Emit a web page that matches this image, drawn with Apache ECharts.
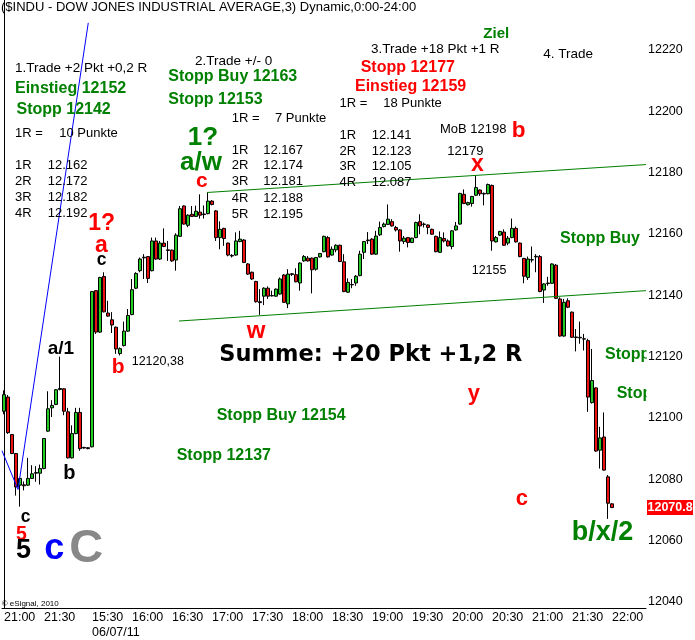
<!DOCTYPE html>
<html><head><meta charset="utf-8">
<script src="https://cdn.jsdelivr.net/npm/echarts@6/dist/echarts.min.js"></script>
<style>html,body{margin:0;padding:0;background:#fff}#c{width:695px;height:640px}</style>
</head><body><div id="c"></div>
<script>
// ---- categories (3-minute bars) ----
const prevDay = '05/07';
const today = '06/07';
const dateLabel = '06/07/11';
const prevDayTimes = ['21:00','21:03','21:06','21:09','21:12','21:15','21:18','21:21','21:24','21:27',
 '21:30','21:33','21:36','21:39','21:42','21:45','21:48','21:51','21:54','21:57','22:00'];
const todayTimes = ['15:27',
 '15:30','15:33','15:36','15:39','15:42','15:45','15:48','15:51','15:54','15:57',
 '16:00','16:03','16:06','16:09','16:12','16:15','16:18','16:21','16:24','16:27',
 '16:30','16:33','16:36','16:39','16:42','16:45','16:48','16:51','16:54','16:57',
 '17:00','17:03','17:06','17:09','17:12','17:15','17:18','17:21','17:24','17:27',
 '17:30','17:33','17:36','17:39','17:42','17:45','17:48','17:51','17:54','17:57',
 '18:00','18:03','18:06','18:09','18:12','18:15','18:18','18:21','18:24','18:27',
 '18:30','18:33','18:36','18:39','18:42','18:45','18:48','18:51','18:54','18:57',
 '19:00','19:03','19:06','19:09','19:12','19:15','19:18','19:21','19:24','19:27',
 '19:30','19:33','19:36','19:39','19:42','19:45','19:48','19:51','19:54','19:57',
 '20:00','20:03','20:06','20:09','20:12','20:15','20:18','20:21','20:24','20:27',
 '20:30','20:33','20:36','20:39','20:42','20:45','20:48','20:51','20:54','20:57',
 '21:00','21:03','21:06','21:09','21:12','21:15','21:18','21:21','21:24','21:27',
 '21:30','21:33','21:36','21:39','21:42','21:45','21:48','21:51','21:54','21:57',
 '22:00','22:03','22:06','22:09','22:12','22:15','22:18','22:21','22:24'];
const xTicks = ['05/07 21:00','05/07 21:30','06/07 15:30','06/07 16:00','06/07 16:30','06/07 17:00',
 '06/07 17:30','06/07 18:00','06/07 18:30','06/07 19:00','06/07 19:30','06/07 20:00','06/07 20:30',
 '06/07 21:00','06/07 21:30','06/07 22:00'];
const yTicks = [12040,12060,12080,12100,12120,12140,12160,12180,12200,12220];

// ---- OHLC values ----
const open = [12102.2,12106.8,12094.6,12088.4,12078.1,12078.2,12078.1,12080.3,12082.0,12082.0,
 12083.5,12095.7,12103.3,12104.4,12109.3,12109.5,12102.0,12087.0,12094.9,12101.8,
 12090.4,12090.3,12090.6,12141.5,12128.0,12146.1,12134.2,12132.0,12129.6,12121.0,
 12123.6,12128.3,12133.7,12142.3,12148.0,12152.2,12152.6,12148.0,12157.7,12151.8,
 12157.0,12154.8,12154.7,12151.5,12159.2,12169.1,12162.8,12166.4,12165.7,12167.1,
 12166.3,12166.6,12170.7,12167.5,12158.8,12161.8,12157.0,12153.0,12153.1,12157.5,
 12158.0,12150.2,12147.5,12144.5,12137.9,12139.7,12142.3,12139.8,12139.7,12140.4,
 12146.6,12137.2,12147.0,12146.7,12144.0,12151.2,12152.1,12152.1,12148.5,12152.5,
 12154.2,12158.8,12153.1,12154.8,12156.3,12150.9,12141.0,12143.5,12144.0,12146.4,
 12154.0,12157.8,12158.3,12153.4,12159.7,12162.4,12163.1,12164.0,12162.1,12161.3,
 12157.5,12158.8,12157.2,12158.8,12164.0,12163.1,12162.9,12161.5,12159.2,12154.0,
 12158.5,12157.7,12155.9,12161.3,12163.2,12172.9,12169.5,12169.9,12172.6,12174.3,
 12173.0,12173.1,12175.8,12157.4,12159.6,12160.6,12157.0,12158.8,12161.8,12157.0,
 12152.0,12145.8,12151.5,12152.5,12152.6,12141.7,12143.8,12143.9,12149.8,12138.8,
 12126.7,12138.2,12134.5,12126.4,12126.1,12125.8,12125.2,12105.0,12109.8,12089.5,
 12093.8,12080.8,12072.0];
const high = [12109.0,12107.5,12094.8,12088.6,12080.5,12079.3,12087.0,12084.6,12084.3,12084.8,
 12093.5,12108.7,12105.8,12109.4,12120.0,12109.7,12103.3,12097.6,12103.3,12103.3,
 12090.6,12090.5,12141.4,12141.7,12146.0,12147.5,12138.2,12134.5,12129.8,12123.0,
 12131.4,12135.5,12145.3,12147.5,12152.3,12153.4,12152.8,12158.8,12158.8,12157.7,
 12161.8,12157.7,12154.9,12160.2,12169.1,12169.3,12166.4,12169.1,12169.2,12172.9,
 12169.3,12173.6,12171.0,12167.8,12164.1,12162.0,12157.2,12153.4,12160.5,12161.0,
 12158.3,12150.5,12147.7,12144.7,12142.0,12142.6,12142.9,12141.5,12142.2,12145.8,
 12146.9,12148.5,12147.2,12148.8,12150.7,12153.1,12152.8,12152.3,12152.5,12153.8,
 12159.4,12159.3,12155.9,12156.6,12156.5,12153.4,12145.5,12145.3,12146.6,12154.5,
 12157.7,12160.6,12158.6,12161.0,12164.0,12163.7,12169.6,12164.8,12162.6,12161.5,
 12159.3,12159.0,12158.8,12164.0,12166.4,12163.7,12163.1,12161.7,12159.4,12160.8,
 12160.5,12158.2,12161.2,12163.9,12173.4,12174.5,12170.5,12172.4,12179.0,12174.5,
 12173.5,12176.4,12176.1,12159.3,12161.0,12161.5,12159.3,12165.0,12162.4,12157.2,
 12152.2,12152.6,12155.9,12153.4,12153.1,12143.9,12146.0,12150.4,12150.2,12139.3,
 12138.8,12139.0,12134.7,12129.0,12131.4,12127.4,12125.8,12122.5,12110.0,12097.1,
 12101.8,12081.4,12072.2];
const low = [12101.2,12094.8,12088.2,12074.7,12071.1,12076.4,12077.9,12080.1,12079.2,12078.3,
 12083.3,12095.5,12100.3,12104.2,12109.0,12100.9,12086.8,12086.8,12094.7,12089.3,
 12090.0,12089.8,12090.4,12127.4,12127.7,12134.4,12133.0,12127.7,12120.9,12120.38,
 12123.3,12128.1,12133.5,12142.0,12147.5,12145.3,12144.0,12147.8,12151.6,12151.5,
 12155.7,12151.2,12150.9,12148.0,12159.0,12163.0,12162.2,12165.5,12165.5,12165.0,
 12165.0,12166.4,12169.3,12157.7,12155.0,12156.1,12152.7,12152.3,12152.9,12157.3,
 12150.5,12146.6,12145.0,12137.6,12133.6,12136.8,12138.8,12139.6,12139.5,12140.2,
 12137.5,12135.8,12146.3,12144.2,12141.5,12150.9,12151.0,12140.6,12148.0,12152.3,
 12154.0,12152.3,12152.9,12154.0,12150.8,12141.0,12140.8,12142.3,12143.1,12146.2,
 12151.8,12156.7,12153.2,12153.2,12159.3,12162.1,12162.9,12162.4,12160.8,12154.2,
 12156.7,12155.6,12157.0,12158.6,12159.9,12162.1,12159.9,12159.7,12154.0,12153.8,
 12157.2,12155.9,12155.0,12161.1,12163.0,12169.7,12169.3,12168.9,12172.4,12172.4,
 12169.3,12172.9,12154.5,12157.2,12159.3,12156.1,12156.3,12158.6,12157.2,12152.4,
 12143.9,12145.0,12150.7,12147.5,12141.0,12137.5,12143.1,12143.7,12138.8,12126.5,
 12126.5,12135.8,12126.1,12121.7,12124.2,12122.0,12102.0,12104.7,12089.0,12083.5,
 12082.8,12067.1,12070.6];
const close = [12107.6,12095.2,12088.4,12077.5,12080.3,12077.9,12080.3,12081.8,12082.2,12083.5,
 12093.3,12103.0,12104.1,12109.2,12109.6,12102.2,12087.0,12094.9,12101.8,12090.0,
 12090.2,12090.0,12141.2,12128.0,12145.8,12134.6,12133.2,12130.3,12122.5,12122.6,
 12128.3,12133.4,12141.8,12147.1,12151.8,12152.4,12145.5,12157.7,12151.8,12157.0,
 12155.9,12154.6,12151.2,12159.6,12168.2,12163.2,12166.1,12165.7,12167.4,12166.1,
 12166.5,12170.7,12169.6,12158.8,12161.5,12158.5,12153.1,12152.8,12157.7,12158.3,
 12150.7,12146.9,12145.3,12137.9,12137.6,12142.3,12139.7,12139.9,12142.0,12145.3,
 12137.7,12146.9,12146.8,12144.4,12150.5,12152.6,12151.2,12148.3,12152.3,12153.6,
 12159.2,12152.5,12155.0,12156.3,12151.0,12141.2,12144.2,12143.4,12146.2,12153.4,
 12157.5,12158.0,12153.4,12159.3,12162.1,12163.2,12164.8,12162.6,12161.3,12157.7,
 12158.6,12157.2,12158.6,12163.7,12162.6,12163.2,12162.1,12159.9,12154.2,12158.8,
 12157.7,12156.1,12161.0,12162.6,12173.2,12169.9,12170.2,12172.2,12175.1,12173.1,
 12173.2,12176.1,12157.7,12158.8,12160.8,12156.3,12158.6,12161.8,12157.4,12152.6,
 12146.2,12151.8,12151.6,12152.7,12141.2,12143.7,12144.0,12150.2,12139.0,12126.7,
 12137.7,12136.1,12126.3,12126.2,12126.3,12125.7,12106.8,12112.2,12089.2,12093.5,
 12083.0,12072.2,12070.8];

// ---- trend lines: [bar index, price] ----
const blueLine = [[-0.5, 12089.3], [3.5, 12076.7], [21.07, 12228.8]];
const upperChannel = [[50.75, 12173.5], [160.5, 12182.6]];
const lowerChannel = [[43.75, 12131.6], [160.5, 12141.5]];

const categories = prevDayTimes.map(t => prevDay + ' ' + t).concat(todayTimes.map(t => today + ' ' + t));
const candles = open.map((o, i) => [o, close[i], low[i], high[i]]);

const FONT = '"Liberation Sans", Arial, sans-serif';
const GREEN = '#008000', RED = '#ff0000';
function txt(text, x, y, color, size, weight, family, z) {
  return { type: 'text', x: x, y: y, z: z || 10, silent: true,
    style: { text: text, fill: color, fontSize: size, fontWeight: weight || 'normal',
      fontFamily: family || FONT, align: 'left', verticalAlign: 'middle' } };
}
const notes = [
  ['($INDU - DOW JONES INDUSTRIAL AVERAGE,3) Dynamic,0:00-24:00', 1, 7.2, '#000', 13],
  ['1.Trade +2 Pkt +0,2 R', 15, 68.7, '#000', 13.5],
  ['Einstieg 12152', 15, 88.5, GREEN, 16, 'bold'],
  ['Stopp 12142', 16.5, 110, GREEN, 16, 'bold'],
  ['1R =', 15, 133.3, '#000', 13], ['10 Punkte', 59.3, 133.3, '#000', 13],
  ['1R', 15, 165.7, '#000', 13], ['12.162', 47.7, 165.7, '#000', 13],
  ['2R', 15, 181, '#000', 13], ['12.172', 47.7, 181, '#000', 13],
  ['3R', 15, 197.3, '#000', 13], ['12.182', 47.7, 197.3, '#000', 13],
  ['4R', 15, 213.3, '#000', 13], ['12.192', 47.7, 213.3, '#000', 13],
  ['2.Trade +/- 0', 195, 61.3, '#000', 13.5],
  ['Stopp Buy 12163', 168.3, 76.8, GREEN, 16, 'bold'],
  ['Stopp 12153', 168.3, 100, GREEN, 16, 'bold'],
  ['1R =', 231.7, 118.3, '#000', 13], ['7 Punkte', 275, 118.3, '#000', 13],
  ['1R', 231.7, 150, '#000', 13], ['12.167', 263.3, 150, '#000', 13],
  ['2R', 231.7, 165.7, '#000', 13], ['12.174', 263.3, 165.7, '#000', 13],
  ['3R', 231.7, 181.7, '#000', 13], ['12.181', 263.3, 181.7, '#000', 13],
  ['4R', 231.7, 198.3, '#000', 13], ['12.188', 263.3, 198.3, '#000', 13],
  ['5R', 231.7, 214, '#000', 13], ['12.195', 263.3, 214, '#000', 13],
  ['Ziel', 483.3, 33.5, GREEN, 15, 'bold'],
  ['3.Trade +18 Pkt +1 R', 371, 49.3, '#000', 13.5],
  ['Stopp 12177', 360.7, 67.5, RED, 16, 'bold'],
  ['Einstieg 12159', 355, 86.2, RED, 16, 'bold'],
  ['1R =', 339.5, 103.3, '#000', 13], ['18 Punkte', 383.3, 103.3, '#000', 13],
  ['1R', 339.5, 135, '#000', 13], ['12.141', 371.7, 135, '#000', 13],
  ['2R', 339.5, 151.7, '#000', 13], ['12.123', 371.7, 151.7, '#000', 13],
  ['3R', 339.5, 166.7, '#000', 13], ['12.105', 371.7, 166.7, '#000', 13],
  ['4R', 339.5, 182.7, '#000', 13], ['12.087', 371.7, 182.7, '#000', 13],
  ['4. Trade', 543.3, 54.3, '#000', 13.5],
  ['MoB 12198', 440, 129.5, '#000', 13],
  ['12179', 447.3, 151, '#000', 13],
  ['12120,38', 131.7, 361.7, '#000', 12.5],
  ['12155', 471.7, 270.5, '#000', 12.5],
  ['Stopp Buy', 560, 238.7, GREEN, 16, 'bold'],
  ['Stopp Buy 12154', 216.7, 415.3, GREEN, 16, 'bold'],
  ['Stopp 12137', 176.7, 455.8, GREEN, 16, 'bold'],
  ['Summe: +20 Pkt +1,2 R', 219.3, 355.3, '#000', 22.5, 'bold', '"DejaVu Sans", sans-serif'],
  ['1?', 187.7, 137.7, GREEN, 26, 'bold'],
  ['a/w', 180, 162.7, GREEN, 26, 'bold'],
  ['c', 196, 181, RED, 21, 'bold'],
  ['1?', 88.3, 223.7, RED, 23, 'bold'],
  ['a', 95, 245.3, RED, 23, 'bold'],
  ['c', 96.7, 260.6, '#000', 17.5, 'bold'],
  ['a/1', 47.7, 348.4, '#000', 19, 'bold'],
  ['b', 111.7, 367.7, RED, 21, 'bold'],
  ['w', 246.7, 331.7, RED, 24, 'bold'],
  ['x', 471, 164.7, RED, 23, 'bold'],
  ['b', 511.7, 130.5, RED, 22.5, 'bold'],
  ['y', 467.7, 393.8, RED, 22, 'bold'],
  ['c', 515.7, 499.1, RED, 22, 'bold'],
  ['b/x/2', 571.7, 532.3, GREEN, 27, 'bold'],
  ['b', 63.3, 473.1, '#000', 20, 'bold'],
  ['c', 20.7, 516.9, '#000', 17.5, 'bold'],
  ['5', 16, 534.9, RED, 19.5, 'bold'],
  ['5', 16, 550.6, '#000', 27, 'bold'],
  ['c', 44.3, 549.2, '#0000ff', 36, 'bold'],
  ['C', 69.3, 548.7, '#888888', 47, 'bold'],
  ['\u00a9 eSignal, 2010', 1.7, 603.3, '#000', 8]
];
// texts that run under the price axis (clipped there)
const clippedNotes = [
  ['Stopp', 605, 354.8, GREEN, 16, 'bold'],
  ['Stopp', 616.7, 393.2, GREEN, 16, 'bold']
];

const chart = echarts.init(document.getElementById('c'), null, { renderer: 'canvas' });
const graphics = notes.map(n => txt(n[0], n[1], n[2], n[3], n[4], n[5], n[6]))
  .concat(clippedNotes.map(n => txt(n[0], n[1], n[2], n[3], n[4], n[5], n[6], -2)))
  .concat([{ type: 'rect', z: -1, silent: true, shape: { x: 646.5, y: 330, width: 49, height: 90 }, style: { fill: '#fff' } }]);

chart.setOption({
  animation: false,
  backgroundColor: '#fff',
  grid: { left: 2, right: 49, top: 0, bottom: 30 },
  xAxis: [{
    type: 'category', data: categories, boundaryGap: true,
    axisLine: { lineStyle: { color: '#000', width: 1 } },
    axisTick: { show: false },
    splitLine: { show: false },
    axisLabel: {
      interval: (idx, val) => xTicks.indexOf(val) >= 0,
      formatter: val => { const t = val.slice(6); return val === today + ' 15:30' ? t + '\n' + dateLabel : t; },
      align: 'left', margin: 2, color: '#000', fontSize: 12.5, lineHeight: 15, fontFamily: FONT
    }
  }, {
    type: 'value', min: -0.5, max: 160.5, show: false
  }],
  yAxis: {
    type: 'value', position: 'right', min: 12038.05, max: 12236.25, scale: true,
    axisLine: { show: true, lineStyle: { color: '#000', width: 1 } },
    axisTick: { show: false },
    splitLine: { show: false },
    axisLabel: { customValues: yTicks, formatter: v => String(v), margin: 2, color: '#000', fontSize: 12.5, fontFamily: FONT, align: 'left' }
  },
  series: [{
    type: 'candlestick', xAxisIndex: 0, yAxisIndex: 0, data: candles, barWidth: 3, z: 2,
    itemStyle: { color: '#22cc22', color0: '#ee1111', borderColor: '#000', borderColor0: '#000', borderWidth: 1 },
    emphasis: { disabled: true }
  }, {
    type: 'line', xAxisIndex: 1, data: blueLine, symbol: 'none', z: 3, silent: true,
    lineStyle: { color: '#0000ff', width: 1 }
  }, {
    type: 'line', xAxisIndex: 1, data: upperChannel, symbol: 'none', z: 3, silent: true,
    lineStyle: { color: GREEN, width: 1 }
  }, {
    type: 'line', xAxisIndex: 1, data: lowerChannel, symbol: 'none', z: 3, silent: true,
    lineStyle: { color: GREEN, width: 1 }
  }],
  graphic: graphics
});

// last price tag on the price axis
const lastClose = close[close.length - 1];
const py = chart.convertToPixel({ yAxisIndex: 0 }, lastClose);
graphics.push({ type: 'rect', z: 20, silent: true, shape: { x: 647, y: py - 7.5, width: 46, height: 15 }, style: { fill: '#ff0000' } });
graphics.push({ type: 'text', z: 21, silent: true, x: 647.5, y: py,
  style: { text: lastClose.toFixed(1), fill: '#fff', fontSize: 12.5, fontWeight: 'bold', fontFamily: FONT, align: 'left', verticalAlign: 'middle' } });
chart.setOption({ graphic: graphics });
</script></body></html>
